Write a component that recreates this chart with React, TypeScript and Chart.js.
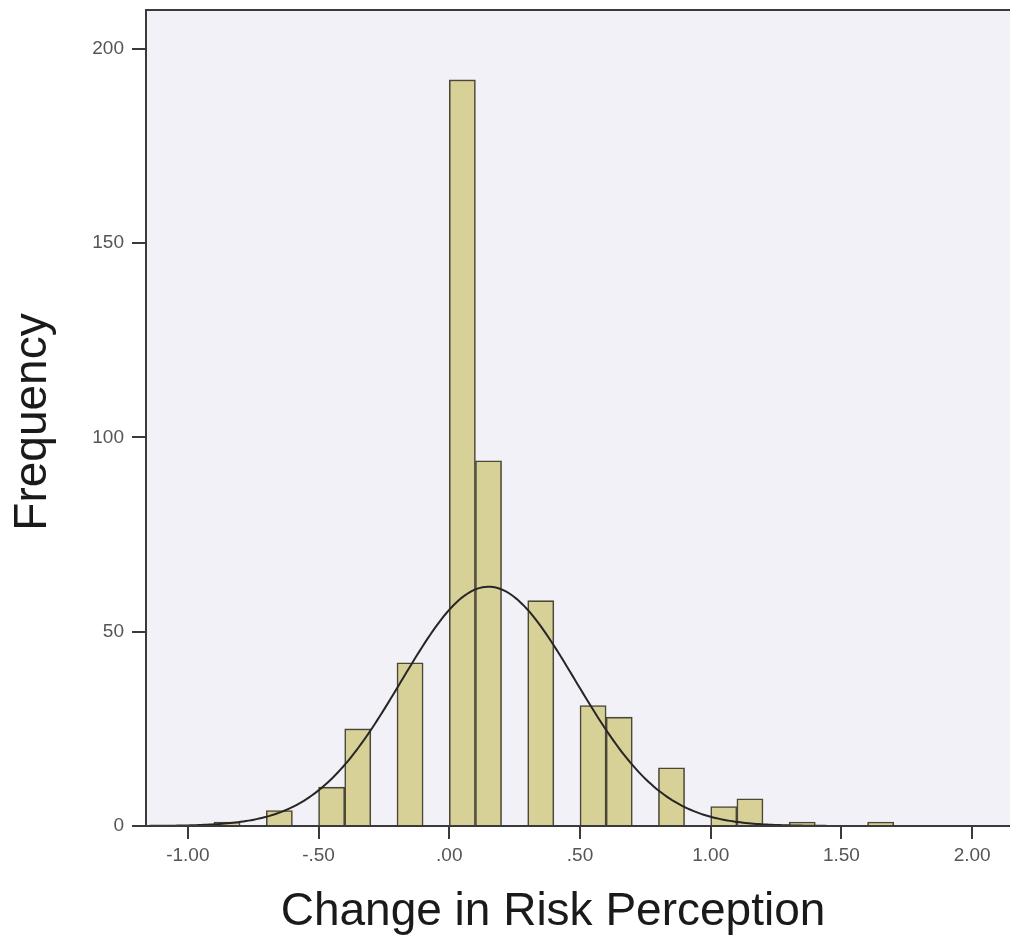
import React, { useEffect, useRef } from "react";
import { Chart, registerables } from "chart.js";

Chart.register(...registerables);

// Histogram bins (bin centres, width 0.1) and frequencies
const BIN_CENTERS = [-0.85, -0.75, -0.65, -0.55, -0.45, -0.35, -0.25, -0.15, -0.05, 0.05, 0.15, 0.25, 0.35, 0.45, 0.55, 0.65, 0.75, 0.85, 0.95, 1.05, 1.15, 1.25, 1.35, 1.45, 1.55, 1.65];
const COUNTS = [1, 0, 4, 0, 10, 25, 0, 42, 0, 192, 94, 0, 58, 0, 31, 28, 0, 15, 0, 5, 7, 0, 1, 0, 0, 1];

// Fitted normal curve parameters
const MEAN = 0.15;
const SD = 0.333;
const BIN_WIDTH = 0.1;

const X_TICKS = [-1, -0.5, 0, 0.5, 1, 1.5, 2];
const X_TICK_LABELS = ["-1.00", "-.50", ".00", ".50", "1.00", "1.50", "2.00"];
const Y_TICKS = [0, 50, 100, 150, 200];
const Y_TICK_LABELS = ["0", "50", "100", "150", "200"];

const X_MIN = -1.16;
const X_MAX = 2.16;
const Y_MAX = 210;

const X_TITLE = "Change in Risk Perception";
const Y_TITLE = "Frequency";

export default function App() {
  const ref = useRef<HTMLCanvasElement | null>(null);

  useEffect(() => {
    if (!ref.current) return;
    const n = COUNTS.reduce((a, b) => a + b, 0);
    const curve: { x: number; y: number }[] = [];
    for (let i = 0; i <= 330; i++) {
      const x = X_MIN + (i * (X_MAX - X_MIN)) / 330;
      const z = (x - MEAN) / SD;
      curve.push({ x, y: (n * BIN_WIDTH) / (SD * Math.sqrt(2 * Math.PI)) * Math.exp(-0.5 * z * z) });
    }

    const framePlugin = {
      id: "frame",
      beforeDatasetsDraw(chart: any) {
        const { ctx, chartArea: a } = chart;
        ctx.save();
        ctx.fillStyle = "#f3f1f8";
        ctx.fillRect(a.left, a.top, a.right - a.left, a.bottom - a.top);
        ctx.restore();
      },
      afterDraw(chart: any) {
        const { ctx, chartArea: a } = chart;
        ctx.save();
        ctx.strokeStyle = "#3a3a3a";
        ctx.lineWidth = 2;
        ctx.strokeRect(a.left, a.top, a.right - a.left, a.bottom - a.top);
        ctx.fillStyle = "#1a1a1a";
        ctx.font = '46px "Liberation Sans", Arial, sans-serif';
        ctx.textAlign = "center";
        ctx.textBaseline = "middle";
        ctx.fillText(X_TITLE, 553, 912);
        ctx.translate(33, (a.top + a.bottom) / 2 + 4);
        ctx.rotate(-Math.PI / 2);
        ctx.fillText(Y_TITLE, 0, 0);
        ctx.restore();
      },
    };

    const axisColor = "#3a3a3a";
    const tickFont = { family: '"Liberation Sans", Arial, sans-serif', size: 19 };

    const chart = new Chart(ref.current, {
      type: "bar",
      data: {
        datasets: [
          {
            type: "line",
            data: curve,
            borderColor: "#262626",
            borderWidth: 2,
            pointRadius: 0,
            tension: 0,
            order: 0,
          } as any,
          {
            type: "bar",
            data: BIN_CENTERS.map((x, i) => ({ x, y: COUNTS[i] })),
            backgroundColor: "#d7d097",
            borderColor: "#4a4736",
            borderWidth: 1.6,
            barPercentage: 1,
            categoryPercentage: 1,
            order: 1,
          } as any,
        ],
      },
      options: {
        responsive: false,
        animation: false,
        devicePixelRatio: 1,
        layout: { padding: { top: 10, left: 0, right: 0, bottom: 0 } },
        plugins: { legend: { display: false }, tooltip: { enabled: false } },
        scales: {
          x: {
            type: "linear",
            min: X_MIN,
            max: X_MAX,
            offset: false,
            afterBuildTicks: (s: any) => {
              s.ticks = X_TICKS.map((v) => ({ value: v }));
            },
            afterFit: (s: any) => {
              s.height = 113;
              s.paddingLeft = 0;
              s.paddingRight = 0;
            },
            ticks: {
              autoSkip: false,
              maxRotation: 0,
              padding: 5,
              color: "#555",
              font: tickFont,
              callback: (v: any) => {
                const i = X_TICKS.indexOf(Number(v));
                return i >= 0 ? X_TICK_LABELS[i] : "";
              },
            },
            grid: { display: true, offset: false, drawOnChartArea: false, drawTicks: true, tickLength: 13, color: axisColor, lineWidth: 2 },
            border: { display: true, color: axisColor, width: 2 },
          },
          y: {
            type: "linear",
            min: 0,
            max: Y_MAX,
            afterBuildTicks: (s: any) => {
              s.ticks = Y_TICKS.map((v) => ({ value: v }));
            },
            afterFit: (s: any) => {
              s.width = 146;
              s.paddingTop = 0;
              s.paddingBottom = 0;
            },
            ticks: {
              autoSkip: false,
              padding: 8,
              color: "#555",
              font: tickFont,
              callback: (v: any) => {
                const i = Y_TICKS.indexOf(Number(v));
                return i >= 0 ? Y_TICK_LABELS[i] : "";
              },
            },
            grid: { display: true, offset: false, drawOnChartArea: false, drawTicks: true, tickLength: 14, color: axisColor, lineWidth: 2 },
            border: { display: true, color: axisColor, width: 2 },
          },
        },
      },
      plugins: [framePlugin],
    });
    return () => chart.destroy();
  }, []);

  return (
    <div style={{ position: "fixed", left: 0, top: 0, right: 0, bottom: 0, overflow: "hidden", background: "#fff" }}>
      <canvas ref={ref} width={1014} height={939} style={{ display: "block" }} />
    </div>
  );
}
